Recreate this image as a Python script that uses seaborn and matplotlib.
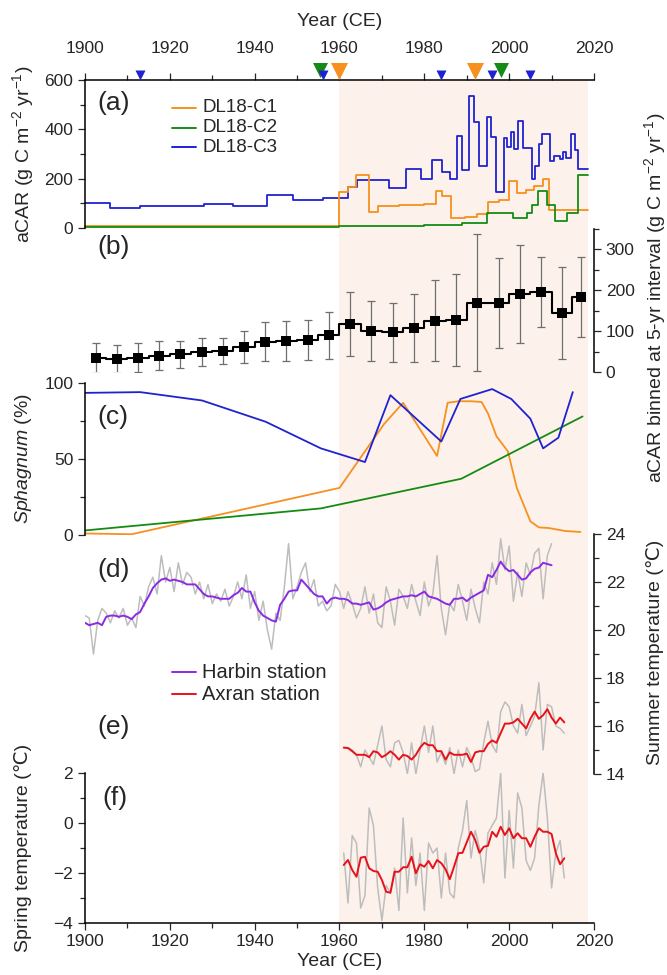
import matplotlib
matplotlib.use("Agg")
import numpy as np
import pandas as pd
import matplotlib.pyplot as plt
from matplotlib.ticker import MultipleLocator
from matplotlib.lines import Line2D
import seaborn as sns

# ---------------- data ----------------
# (a) aCAR step series: start year of each step and its value; last entry = end year
c1_year = [1900, 1960, 1962, 1964, 1967, 1969, 1974, 1980, 1982.7, 1984.2, 1986.2, 1989.5,
           1992.5, 1995, 1997.5, 1999.9, 2001.9, 2003.9, 2005.9, 2007.9, 2009.3]
c1_val = [10, 145, 168, 215, 65, 88, 92, 97, 150, 128, 40, 45,
          55, 105, 115, 190, 140, 155, 170, 200, 75]
c2_year = [1900, 1930, 1960, 1975, 1980, 1988.9, 1994.7, 2000.8, 2004.3, 2005.3, 2006.9,
           2008.9, 2010.7, 2013.7, 2016.3]
c2_val = [3, 6, 8, 10, 12, 20, 62, 42, 62, 95, 150, 95, 30, 60, 215]
c3_year = [1900, 1906, 1913, 1928, 1935, 1943, 1949, 1956, 1962, 1964.2, 1971.7, 1975.7,
           1979.2, 1981.9, 1984.2, 1986, 1987.7, 1988.9, 1990.6, 1991.8, 1992.8, 1994.8,
           1995.8, 1996.8, 1998.8, 1999.6, 2000.4, 2001.2, 2002.2, 2003.2, 2005.3, 2006.2,
           2007, 2007.8, 2009.6, 2010.5, 2011.9, 2012.6, 2013.3, 2014.5, 2015.5, 2016.3]
c3_val = [100, 83, 90, 97, 88, 135, 115, 122, 166, 196, 162, 240,
          200, 277, 226, 197, 372, 234, 535, 430, 250, 448,
          370, 146, 363, 330, 390, 320, 435, 325, 200, 252,
          340, 380, 270, 290, 280, 310, 285, 383, 318, 240]
core_end = 2018.6
# dating markers on top axis
c1_marks = [1960, 1992]
c2_marks = [1955.5, 1998]
c3_marks = [1913, 1956, 1984, 1996, 2005]

# (b) aCAR binned at 5-yr interval
b_year = [1902.5, 1907.5, 1912.5, 1917.5, 1922.5, 1927.5, 1932.5, 1937.5, 1942.5, 1947.5,
          1952.5, 1957.5, 1962.5, 1967.5, 1972.5, 1977.5, 1982.5, 1987.5, 1992.5, 1997.5,
          2002.5, 2007.5, 2012.5, 2017]
b_mean = [34, 32, 35, 40, 44, 49, 52, 61, 74, 76, 79, 90, 118, 100, 97, 108, 126, 127,
          170, 168, 192, 195, 145, 184]
b_err = [37, 35, 36, 35, 33, 34, 32, 39, 48, 50, 49, 58, 78, 73, 73, 84, 98, 112,
         168, 110, 120, 86, 113, 98]

# (c) Sphagnum (%)
s1_year = [1900, 1911, 1960, 1970.5, 1975, 1983, 1985.5, 1988, 1991, 1993.5, 1995, 1997,
           1999.7, 2001.8, 2005, 2007, 2009.3, 2013.3, 2016.8]
s1_val = [1, 0.5, 31, 73, 87, 52, 87, 88, 88, 87.5, 80, 65, 55, 31, 9, 5, 4.6, 2.6, 2]
s2_year = [1900, 1955.6, 1988.7, 2017.3]
s2_val = [3, 17.5, 37, 78]
s3_year = [1900, 1913, 1927.6, 1942.6, 1955.6, 1966, 1972, 1984, 1988.5, 1996, 2000.5,
           2005, 2008, 2011.6, 2015]
s3_val = [93.5, 94, 88.5, 74.5, 57, 48, 92, 61.5, 89.5, 96, 89.5, 76.5, 57, 64, 94]

# (d) Harbin summer temperature, 1900-2010
harbin_year = list(range(1900, 2011))
harbin_raw = [20.6, 20.5, 19.0, 20.4, 20.9, 20.7, 20.3, 20.8, 20.5, 20.9,
              20.2, 20.5, 20.1, 21.4, 21.0, 21.8, 22.2, 21.5, 23.1, 22.0,
              22.6, 21.6, 22.8, 21.9, 22.4, 22.2, 21.5, 22.0, 21.3, 21.9,
              21.1, 21.5, 21.2, 21.7, 21.0, 21.4, 22.0, 21.3, 22.3, 20.9,
              21.6, 20.4, 21.2, 20.0, 19.2, 20.7, 20.4, 21.8, 23.6, 21.3,
              21.8, 22.4, 22.8, 21.6, 22.1, 21.0, 21.2, 20.8, 21.0, 21.9,
              21.6, 20.9, 21.6, 21.1, 20.5, 20.9, 21.8, 20.7, 21.5, 20.3,
              20.1, 21.8, 21.2, 20.2, 21.7, 21.4, 20.9, 21.9, 21.2, 20.6,
              22.0, 21.0, 21.5, 23.1, 20.9, 19.8, 21.1, 20.8, 21.9, 21.2,
              20.4, 21.7, 20.9, 20.3, 22.0, 21.5, 22.8, 21.9, 23.8, 22.5,
              23.5, 21.2, 22.4, 21.4, 22.8, 22.3, 23.2, 23.4, 21.3, 23.1, 23.6]
harbin_smooth = [20.3, 20.2, 20.25, 20.3, 20.2, 20.55, 20.6, 20.6, 20.55, 20.6,
                 20.55, 20.45, 20.65, 20.75, 21.1, 21.4, 21.75, 21.95, 22.1, 22.15,
                 22.05, 22.1, 22.05, 22.0, 21.9, 21.9, 21.9, 21.7, 21.5, 21.4,
                 21.4, 21.35, 21.3, 21.3, 21.3, 21.45, 21.55, 21.75, 21.6, 21.6,
                 21.15, 20.8, 20.6, 20.5, 20.4, 20.35, 21.05, 21.3, 21.6, 21.65,
                 21.65, 22.1, 21.9, 21.7, 21.5, 21.4, 21.4, 21.1, 21.3, 21.35,
                 21.3, 21.3, 21.25, 21.1, 21.1, 21.05, 21.1, 21.15, 20.85, 20.9,
                 21.0, 21.15, 21.25, 21.3, 21.35, 21.4, 21.4, 21.45, 21.4, 21.5,
                 21.6, 21.4, 21.35, 21.3, 21.2, 21.1, 21.05, 21.3, 21.3, 21.35,
                 21.2, 21.35, 21.45, 21.55, 21.65, 22.3, 22.2, 22.5, 22.85, 22.6,
                 22.45, 22.5, 22.3, 22.1, 22.15, 22.4, 22.55, 22.6, 22.8, 22.75, 22.7]

# (e) Axran summer temperature, (f) Axran spring temperature, 1961-2013
axran_year = list(range(1961, 2014))
axran_raw = [15.1, 15.1, 15.0, 14.8, 14.3, 15.0, 14.7, 14.4, 15.2, 16.0,
             14.6, 14.3, 15.3, 15.4, 14.9, 14.0, 15.3, 14.0, 15.0, 16.0,
             14.9, 16.0, 14.5, 14.9, 14.4, 15.1, 14.0, 15.0, 14.3, 15.1,
             14.7, 14.1, 14.2, 15.3, 16.2, 15.2, 14.9, 16.6, 17.0, 16.8,
             16.0, 15.7, 16.9, 15.6, 16.0, 16.4, 17.8, 15.0, 16.9, 16.8,
             16.0, 15.9, 15.7]
axran_smooth = [15.1, 15.08, 14.95, 14.8, 14.8, 14.8, 14.7, 14.95, 14.9, 14.7,
                14.8, 14.95, 14.8, 14.6, 14.8, 14.75, 14.6, 14.8, 15.1, 15.3,
                15.2, 15.2, 14.95, 14.95, 14.6, 14.9, 14.8, 14.8, 14.8, 14.85,
                14.5, 14.9, 14.95, 14.95, 15.25, 15.4, 15.3, 15.7, 16.1, 16.1,
                16.15, 16.3, 16.1, 15.9, 16.3, 16.6, 16.3, 16.45, 16.7, 16.35,
                16.1, 16.35, 16.15]
spring_raw = [-1.2, -3.2, -0.5, -0.8, -3.4, -2.9, 0.6, -0.1, -2.6, -3.9,
              -2.5, -2.8, -1.8, -3.5, 0.2, -2.8, -0.6, -2.5, -1.2, -3.5,
              -0.8, -1.2, -1.0, -3.0, -1.2, -2.8, -3.0, -1.0, -0.3, 0.9,
              -1.4, -0.3, -1.0, -2.4, -0.4, -0.1, 0.2, 2.0, -2.2, 0.5,
              -1.8, 1.2, 0.6, -1.5, -1.9, -1.4, 0.7, 2.0, 0.2, -2.6,
              -1.2, -0.7, -2.2]
spring_smooth = [-1.68, -1.48, -1.88, -2.15, -1.39, -1.35, -1.81, -1.92, -1.95, -2.28,
                 -2.75, -2.79, -1.95, -1.95, -1.77, -1.77, -1.35, -2.01, -1.65, -1.75,
                 -1.52, -1.81, -1.48, -1.61, -1.85, -2.25, -1.75, -1.21, -1.19, -0.77,
                 -0.35, -0.68, -1.19, -0.95, -0.91, -0.35, -0.55, -0.15, -0.48, -0.21,
                 -0.61, -0.41, -0.61, -0.61, -0.95, -0.55, -0.21, -0.35, -0.35, -0.44,
                 -1.21, -1.65, -1.41]

# ---------------- style ----------------
sns.set_style("ticks")
plt.rcParams["font.family"] = ["Liberation Sans", "DejaVu Sans"]
plt.rcParams["mathtext.fontset"] = "custom"
plt.rcParams["mathtext.rm"] = "Liberation Sans"
plt.rcParams["mathtext.it"] = "Liberation Sans:italic"
plt.rcParams["mathtext.default"] = "regular"
plt.rcParams["axes.linewidth"] = 1.1
plt.rcParams["axes.edgecolor"] = "black"

C_OR = "#f7901e"
C_GR = "#148c14"
C_BL = "#1f22d0"
C_PU = "#8a2be2"
C_RD = "#e8111a"
C_GY = "#bdbdbd"
SHADE = "#fdf2eb"

W, H = 667, 975
fig = plt.figure(figsize=(W / 100, H / 100), dpi=100)
X0, X1 = 85, 594
XMIN, XMAX = 1900, 2020


def axes_px(top, bottom):
    ax = fig.add_axes([X0 / W, 1 - bottom / H, (X1 - X0) / W, (bottom - top) / H])
    ax.set_facecolor("none")
    ax.set_xlim(XMIN, XMAX)
    for s in ax.spines.values():
        s.set_visible(False)
    ax.tick_params(axis="x", which="both", bottom=False, top=False,
                   labelbottom=False, labeltop=False)
    ax.tick_params(axis="both", which="major", length=5, width=0.9, labelsize=12.5)
    ax.tick_params(axis="both", which="minor", length=3.4, width=0.9)
    ax.set_xlabel("")
    ax.set_ylabel("")
    return ax


def steps(ax, years, vals, color):
    x = list(years) + [core_end]
    y = list(vals) + [vals[-1]]
    sns.lineplot(x=x, y=y, ax=ax, color=color, lw=1.3, drawstyle="steps-post",
                 estimator=None, sort=False, legend=False, clip_on=False)


def line(ax, x, y, color, lw=1.3, z=2):
    sns.lineplot(x=x, y=y, ax=ax, color=color, lw=lw, estimator=None, sort=False,
                 legend=False, zorder=z)


# background shading (warming period)
bg = axes_px(80, 923)
bg.axis("off")
bg.axvspan(1960, core_end, color=SHADE, lw=0)

# ---- (a) ----
ax_a = axes_px(80, 228)
ax_a.set_ylim(0, 600)
ax_a.spines["left"].set_visible(True)
ax_a.spines["top"].set_visible(True)
ax_a.xaxis.set_major_locator(MultipleLocator(20))
ax_a.xaxis.set_minor_locator(MultipleLocator(10))
ax_a.tick_params(axis="x", which="both", top=True, labeltop=True, direction="out")
ax_a.tick_params(axis="x", which="major", pad=12)
ax_a.yaxis.set_major_locator(MultipleLocator(200))
ax_a.yaxis.set_minor_locator(MultipleLocator(100))
steps(ax_a, c3_year, c3_val, C_BL)
steps(ax_a, c1_year, c1_val, C_OR)
steps(ax_a, c2_year, c2_val, C_GR)
upx = 600 / 148.0  # data units per pixel
ax_a.scatter(c2_marks, [600 + 9.5 * upx] * len(c2_marks), marker="v", s=(15 * 0.72) ** 2,
             color=C_GR, clip_on=False, zorder=5, lw=0)
ax_a.scatter(c3_marks, [600 + 4.8 * upx] * len(c3_marks), marker="v", s=(10 * 0.72) ** 2,
             color=C_BL, clip_on=False, zorder=6, lw=0)
ax_a.scatter(c1_marks, [600 + 9.0 * upx] * len(c1_marks), marker="v", s=(17 * 0.72) ** 2,
             color=C_OR, clip_on=False, zorder=7, lw=0)

# ---- (b) ----
ax_b = axes_px(229, 372)
ax_b.set_ylim(0, 350)
ax_b.spines["right"].set_visible(True)
ax_b.yaxis.tick_right()
ax_b.yaxis.set_major_locator(MultipleLocator(100))
ax_b.yaxis.set_minor_locator(MultipleLocator(50))
ax_b.errorbar(b_year, b_mean, yerr=b_err, fmt="none", ecolor="#6e6e6e", elinewidth=0.9,
              capsize=3.2, capthick=0.9, zorder=2)
sns.lineplot(x=b_year, y=b_mean, ax=ax_b, color="black", lw=1.5, drawstyle="steps-mid",
             marker="s", markersize=6.5, markeredgewidth=0, estimator=None, sort=False,
             legend=False, zorder=3)

# ---- (c) ----
ax_c = axes_px(383, 535)
ax_c.set_ylim(0, 100)
ax_c.spines["left"].set_visible(True)
ax_c.yaxis.set_major_locator(MultipleLocator(50))
ax_c.yaxis.set_minor_locator(MultipleLocator(25))
line(ax_c, s1_year, s1_val, C_OR)
line(ax_c, s2_year, s2_val, C_GR)
line(ax_c, s3_year, s3_val, C_BL)

# ---- (d)/(e) summer temperature ----
ax_de = axes_px(534, 774)
ax_de.set_ylim(14, 24)
ax_de.spines["right"].set_visible(True)
ax_de.yaxis.tick_right()
ax_de.yaxis.set_major_locator(MultipleLocator(2))
ax_de.yaxis.set_minor_locator(MultipleLocator(1))
line(ax_de, harbin_year, harbin_raw, C_GY, lw=1.1, z=2)
line(ax_de, harbin_year, harbin_smooth, C_PU, lw=1.4, z=3)
line(ax_de, axran_year, axran_raw, C_GY, lw=1.1, z=2)
line(ax_de, axran_year, axran_smooth, C_RD, lw=1.4, z=3)

# ---- (f) spring temperature ----
ax_f = axes_px(773, 923)
ax_f.set_ylim(-4, 2)
ax_f.spines["left"].set_visible(True)
ax_f.spines["bottom"].set_visible(True)
ax_f.xaxis.set_major_locator(MultipleLocator(20))
ax_f.xaxis.set_minor_locator(MultipleLocator(10))
ax_f.tick_params(axis="x", which="both", bottom=True, labelbottom=True, direction="out")
ax_f.tick_params(axis="x", which="major", pad=3)
ax_f.yaxis.set_major_locator(MultipleLocator(2))
ax_f.yaxis.set_minor_locator(MultipleLocator(1))
line(ax_f, axran_year, spring_raw, C_GY, lw=1.1, z=2)
line(ax_f, axran_year, spring_smooth, C_RD, lw=1.4, z=3)

for ax in (ax_a, ax_c, ax_f):
    ax.tick_params(axis="y", which="both", left=True, direction="out")
for ax in (ax_b, ax_de):
    ax.tick_params(axis="y", which="both", right=True, left=False, direction="out",
                   labelright=True, labelleft=False)


# ---------------- text ----------------
def ftext(x, y, s, **kw):
    fig.text(x / W, 1 - y / H, s, **kw)


ftext(340, 22, "Year (CE)", ha="center", va="center", fontsize=14)
ftext(340, 962, "Year (CE)", ha="center", va="center", fontsize=14)
ftext(23, 154, r"aCAR (g C m$^{-2}$ yr$^{-1}$)", rotation=90, ha="center", va="center",
      fontsize=14)
ftext(23, 459, r"$\it{Sphagnum}$ (%)", rotation=90, ha="center", va="center", fontsize=14)
ftext(23, 848, "Spring temperature (\u2103)", rotation=90, ha="center", va="center",
      fontsize=14)
ftext(655, 298, r"aCAR binned at 5-yr interval (g C m$^{-2}$ yr$^{-1}$)", rotation=90,
      ha="center", va="center", fontsize=14)
ftext(655, 652, "Summer temperature (\u2103)", rotation=90, ha="center", va="center",
      fontsize=14)

for lab, (x, y) in {"(a)": (97, 103), "(b)": (97, 247), "(c)": (97, 417), "(d)": (97, 570),
                    "(e)": (97, 727), "(f)": (102, 798)}.items():
    ftext(x, y, lab, ha="left", va="center", fontsize=19)


# legends (drawn manually to match placement)
def leg(items, x_line, x_text, y0, dy, fs):
    for i, (lab, col) in enumerate(items):
        y = 1 - (y0 + i * dy) / H
        fig.add_artist(Line2D([x_line[0] / W, x_line[1] / W], [y, y], color=col, lw=1.4))
        fig.text(x_text / W, y, lab, ha="left", va="center", fontsize=fs)


leg([("DL18-C1", C_OR), ("DL18-C2", C_GR), ("DL18-C3", C_BL)], (172, 196), 202, 108, 19.5, 13.5)
leg([("Harbin station", C_PU), ("Axran station", C_RD)], (172, 196), 202, 672, 22, 14.5)

fig.savefig("out.png", dpi=100)
